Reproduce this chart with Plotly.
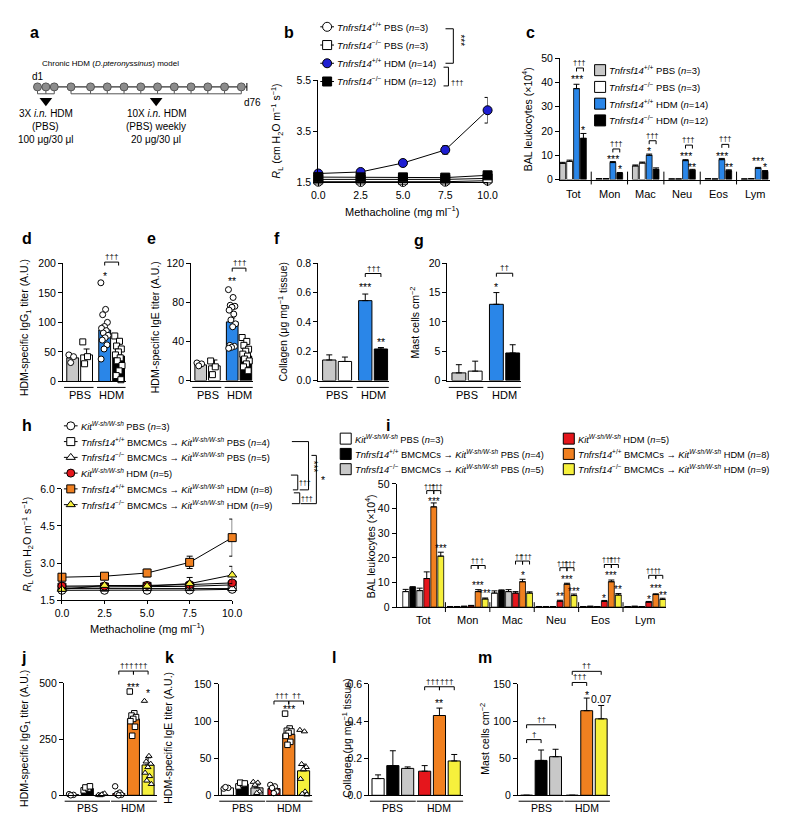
import plotly.graph_objects as go

W, H = 788, 813

# ---------------- values ----------------
# a: protocol
induction_days = [1, 4, 7]
challenge_days = [13, 20, 26, 32, 38, 44, 50, 56, 62, 68, 74]
end_day = 76

# b: lung resistance, Tnfrsf14 mice
methacholine = [0.0, 2.5, 5.0, 7.5, 10.0]
b_wt_pbs = [1.53, 1.52, 1.52, 1.53, 1.57]
b_ko_pbs = [1.62, 1.62, 1.61, 1.62, 1.66]
b_wt_hdm = [1.85, 1.91, 2.26, 2.77, 4.32]
b_ko_hdm = [1.71, 1.70, 1.70, 1.69, 1.78]
b_wt_pbs_err = [0.02, 0.02, 0.02, 0.02, 0.03]
b_ko_pbs_err = [0.02, 0.02, 0.02, 0.02, 0.03]
b_wt_hdm_err = [0.05, 0.05, 0.06, 0.16, 0.50]
b_ko_hdm_err = [0.04, 0.04, 0.04, 0.05, 0.06]

# c: BAL cells
cells = ["Tot", "Mon", "Mac", "Neu", "Eos", "Lym"]
c_wt_pbs = [6.7, 0.3, 5.6, 0.2, 0.3, 0.2]
c_ko_pbs = [7.5, 0.3, 6.8, 0.2, 0.2, 0.3]
c_wt_hdm = [37.5, 7.0, 10.0, 7.8, 8.2, 4.6]
c_ko_hdm = [17.0, 2.5, 4.2, 3.8, 3.6, 3.3]
c_wt_pbs_err = [0.4, 0.1, 0.4, 0.05, 0.1, 0.05]
c_ko_pbs_err = [0.5, 0.1, 0.4, 0.05, 0.05, 0.1]
c_wt_hdm_err = [1.8, 0.4, 0.5, 0.4, 0.5, 0.4]
c_ko_hdm_err = [2.0, 0.4, 0.6, 0.4, 0.4, 0.4]

groups = ["PBS", "HDM"]
# d: IgG1
d_means = [40, 45, 87, 43]
d_err = [4, 10, 9, 7]
d_wt_pbs_pts = [45, 42, 32]
d_ko_pbs_pts = [67, 42, 30]
d_wt_hdm_pts = [167, 122, 113, 100, 93, 90, 86, 82, 78, 74, 70, 62, 55, 38]
d_ko_hdm_pts = [77, 68, 60, 55, 50, 45, 40, 35, 27, 18, 10, 3]
# e: IgE
e_means = [16, 15, 60, 25]
e_err = [1.5, 6, 4, 5]
e_wt_pbs_pts = [18, 17, 15]
e_ko_pbs_pts = [20, 14, 6]
e_wt_hdm_pts = [93, 85, 77, 76, 75, 72, 68, 62, 58, 55, 36, 35, 34, 33]
e_ko_hdm_pts = [44, 40, 36, 32, 30, 27, 25, 22, 20, 17, 14, 10]
# f: collagen
f_means = [0.14, 0.13, 0.545, 0.215]
f_err = [0.035, 0.03, 0.045, 0.01]
# g: mast cells
g_means = [1.3, 1.6, 13.0, 4.7]
g_err = [1.4, 1.7, 2.0, 1.4]

# h: lung resistance, engrafted mice
h_kit_pbs = [1.90, 1.90, 1.90, 1.91, 1.94]
h_wt_pbs = [2.03, 2.03, 2.06, 2.06, 2.12]
h_ko_pbs = [1.97, 1.97, 1.97, 1.97, 1.97]
h_kit_hdm = [2.07, 2.07, 2.10, 2.13, 2.20]
h_wt_hdm = [2.43, 2.47, 2.60, 3.03, 4.03]
h_ko_hdm = [1.94, 2.10, 2.07, 2.17, 2.52]
h_kit_pbs_err = [0.03, 0.03, 0.03, 0.04, 0.05]
h_wt_pbs_err = [0.05, 0.05, 0.06, 0.08, 0.10]
h_ko_pbs_err = [0.04, 0.04, 0.05, 0.05, 0.06]
h_kit_hdm_err = [0.05, 0.06, 0.08, 0.10, 0.12]
h_wt_hdm_err = [0.10, 0.10, 0.15, 0.25, 0.75]
h_ko_hdm_err = [0.06, 0.08, 0.10, 0.25, 0.35]

# i: BAL cells, engrafted mice
i_kit_pbs = [6.3, 0.2, 5.7, 0.2, 0.2, 0.2]
i_wt_pbs = [8.0, 0.2, 6.7, 0.2, 0.3, 0.3]
i_ko_pbs = [6.7, 0.3, 6.3, 0.2, 0.2, 0.2]
i_kit_hdm = [11.6, 0.5, 5.7, 2.4, 2.3, 2.0]
i_wt_hdm = [40.7, 6.3, 10.3, 9.3, 10.3, 5.1]
i_ko_hdm = [20.7, 3.3, 5.7, 4.7, 4.9, 3.1]
i_kit_pbs_err = [0.9, 0.05, 0.9, 0.05, 0.05, 0.05]
i_wt_pbs_err = [0.3, 0.05, 0.3, 0.05, 0.05, 0.05]
i_ko_pbs_err = [1.0, 0.05, 0.8, 0.05, 0.05, 0.05]
i_kit_hdm_err = [2.7, 0.2, 0.6, 0.4, 0.4, 0.3]
i_wt_hdm_err = [1.6, 0.8, 1.0, 0.4, 0.7, 0.3]
i_ko_hdm_err = [1.6, 0.4, 0.5, 0.6, 0.6, 0.5]

# j: IgG1, engrafted mice (order: Kit PBS, +/+ PBS, -/- PBS, Kit HDM, +/+ HDM, -/- HDM)
j_means = [3, 30, 3, 8, 340, 135]
j_err = [2, 4, 2, 7, 15, 32]
j_pts = [[5, 2, 0], [22, 30, 35, 40], [2, 5, 0, 8, 3], [40, 12, 5, 2, 0],
         [462, 365, 355, 348, 340, 330, 305, 265],
         [420, 175, 150, 140, 125, 100, 85, 65, 50]]
# k: IgE
k_means = [10, 15, 10, 9, 82, 33]
k_err = [1, 2, 4, 2, 5, 9]
k_pts = [[9, 10, 11], [12, 15, 17, 16], [18, 17, 14, 5, 3], [14, 12, 10, 5, 3],
         [110, 90, 87, 86, 84, 80, 72, 68],
         [88, 86, 42, 38, 35, 22, 5, 2, 1]]
# l: collagen
l_means = [0.09, 0.16, 0.145, 0.13, 0.43, 0.185]
l_err = [0.02, 0.08, 0.008, 0.03, 0.04, 0.035]
# m: mast cells
m_means = [0, 47, 52, 0, 114, 103]
m_err = [0, 14, 10, 0, 17, 18]

# ---------------- styling ----------------
BLUE = "#2a86e8"
DBLUE = "#1e1ed2"
GRAY = "#c8c8c8"
RED = "#e5161c"
ORANGE = "#f08020"
YELLOW = "#f6f03c"
C_COLORS = [GRAY, "white", BLUE, "black"]
I_COLORS = ["white", "black", GRAY, RED, ORANGE, YELLOW]

fig = go.Figure()
layout = {}
shapes = []
annotations = []
AX = {}


def refs(n):
    return ("x", "y") if n == 1 else (f"x{n}", f"y{n}")


YBASE = dict(showline=True, linecolor="black", linewidth=1, ticks="outside", ticklen=4,
             tickwidth=1, tickcolor="black", showgrid=False, zeroline=False,
             tickfont=dict(size=10.5))
XCAT = dict(showline=True, linecolor="black", linewidth=1, ticks="", showticklabels=False,
            showgrid=False, zeroline=False)
XNUM = dict(showline=True, linecolor="black", linewidth=1, ticks="outside", ticklen=3,
            tickcolor="black", showgrid=False, zeroline=False, tickvals=methacholine,
            tickformat=".1f", tickfont=dict(size=10.5))
HIDDEN = dict(visible=False, showgrid=False, zeroline=False)


def axes(n, box, xr, yr, xopt=None, yopt=None):
    x0, x1, y0, y1 = box
    rx, ry = refs(n)
    xk = "xaxis" if n == 1 else f"xaxis{n}"
    yk = "yaxis" if n == 1 else f"yaxis{n}"
    layout[xk] = dict(domain=[x0 / W, x1 / W], range=xr, anchor=ry, **(xopt or XCAT))
    layout[yk] = dict(domain=[1 - y1 / H, 1 - y0 / H], range=yr, anchor=rx,
                      **{**YBASE, **(yopt or {})})
    AX[n] = dict(box=box, xr=xr, yr=yr)


def xpix(n, x):
    x0, x1, _, _ = AX[n]["box"]
    lo, hi = AX[n]["xr"]
    return x0 + (x - lo) / (hi - lo) * (x1 - x0)


def ypix(n, y):
    _, _, y0, y1 = AX[n]["box"]
    lo, hi = AX[n]["yr"]
    return y1 - (y - lo) / (hi - lo) * (y1 - y0)


def text(x, y, s, size=10.5, xanchor="center", yanchor="middle", angle=0,
         xref="paper", yref="paper", yshift=0):
    if xref == "paper":
        x = x / W
    if yref == "paper":
        y = 1 - y / H
    annotations.append(dict(x=x, y=y, xref=xref, yref=yref, text=s, showarrow=False,
                            font=dict(size=size, color="black"), xanchor=xanchor,
                            yanchor=yanchor, textangle=angle, yshift=yshift))


def pxpath(points):
    return "M" + " L".join(f"{a:.2f},{b:.2f}" for a, b in points)


def pxshape(points):
    shapes.append(dict(type="path", xref="x14", yref="y14", path=pxpath(points),
                       line=dict(color="black", width=1)))


def star(n, x, y, s, size=10.5):
    text(xpix(n, x), ypix(n, y), s, size=size, yshift=-2.5)


def bracket(n, x0, x1, y, label, size=8):
    X0, X1, Y = xpix(n, x0), xpix(n, x1), ypix(n, y)
    pxshape([(X0, Y + 3.5), (X0, Y), (X1, Y), (X1, Y + 3.5)])
    text((X0 + X1) / 2, Y + 1, label, size=size, yanchor="bottom")


def underline(n, x0, x1, ypx):
    pxshape([(xpix(n, x0), ypx), (xpix(n, x1), ypx)])


def cat_label(n, x, ypx, s, size=11):
    text(xpix(n, x), ypx, s, size=size)


def ytitle(x, y, s, size=10.5):
    text(x, y, s, size=size, angle=-90)


def spread(center, n, width):
    if n == 1:
        return [center]
    return [center + width * (((k * 0.618034) % 1.0) - 0.5) for k in range(n)]


def up_err(err):
    return dict(type="data", array=err, arrayminus=[0] * len(err), symmetric=False,
                color="black", thickness=1, width=3)


# ---------------- axes ----------------
axes(1, (310, 483, 67, 171), [0, 10], [1.5, 5.5], XNUM, dict(tickvals=[1.5, 3.5, 5.5]))
axes(2, (557, 772, 45, 168), [-0.36, 5.43], [0, 50], None, dict(tickvals=list(range(0, 51, 10))))
POS4 = [0, 1, 2.3, 3.3]
R4 = [-0.7, 3.8]
axes(3, (49, 113, 253, 373), R4, [0, 200], None, dict(tickvals=[0, 50, 100, 150, 200]))
axes(4, (180, 243, 253, 372), R4, [0, 120], None, dict(tickvals=[0, 40, 80, 120]))
axes(5, (310, 382, 253, 372), R4, [0, 0.8], None, dict(tickvals=[0, 0.2, 0.4, 0.6, 0.8], tickformat=".1f"))
axes(6, (442, 517, 253, 372), R4, [0, 20], None, dict(tickvals=[0, 5, 10, 15, 20]))
axes(7, (48, 222, 482, 595), [0, 10], [1.5, 6.0], XNUM, dict(tickvals=[1.5, 3.0, 4.5, 6.0], tickformat=".1f"))
axes(8, (390, 665, 477, 602), [-0.6, 5.46], [0, 50], None, dict(tickvals=list(range(0, 51, 10))))
POS6 = [0, 1, 2, 3.15, 4.15, 5.15]
R6 = [-0.6, 5.75]
axes(9, (50, 145, 679, 793), R6, [0, 500], None, dict(tickvals=[0, 250, 500]))
axes(10, (208, 304, 680, 793), R6, [0, 150], None, dict(tickvals=[0, 50, 100, 150]))
axes(11, (362, 458, 680, 793), R6, [0, 0.6], None, dict(tickvals=[0, 0.2, 0.4, 0.6], tickformat=".1f"))
axes(12, (514, 608, 680, 793), R6, [0, 150], None, dict(tickvals=[0, 50, 100, 150]))
# a: protocol timeline (x in days, y in pixels)
pxday = (237 - 23) / (end_day - induction_days[0])
axes(13, (15, 250, 40, 140), [induction_days[0] - 8 / pxday, end_day + 13 / pxday], [140, 40], HIDDEN, HIDDEN)
# overlay in pixel units for legends, brackets and group lines
axes(14, (0, W, 0, H), [0, W], [H, 0], HIDDEN, HIDDEN)

# ---------------- a ----------------
TL = 74
all_days = induction_days + challenge_days
fig.add_trace(go.Scatter(x=[induction_days[0], end_day], y=[TL, TL], mode="lines",
                         line=dict(color="black", width=1), xaxis="x13", yaxis="y13"))
shapes.append(dict(type="line", xref="x13", yref="y13", x0=end_day, x1=end_day, y0=TL - 4, y1=TL + 4,
                   line=dict(color="black", width=1)))
for days in (induction_days, challenge_days):
    shapes.append(dict(type="line", xref="x13", yref="y13", x0=days[0], x1=days[-1], y0=81, y1=81,
                       line=dict(color="#555", width=1)))
    for dday in days:
        shapes.append(dict(type="line", xref="x13", yref="y13", x0=dday, x1=dday, y0=78, y1=81,
                           line=dict(color="#555", width=1)))
fig.add_trace(go.Scatter(x=all_days, y=[TL] * len(all_days), mode="markers",
                         marker=dict(size=8, color="#8c8c8c", line=dict(color="#555", width=1)),
                         xaxis="x13", yaxis="y13"))
arrow_x = [sum(induction_days) / len(induction_days),
           (challenge_days[0] + challenge_days[-1]) / 2]
fig.add_trace(go.Scatter(x=arrow_x, y=[88, 88], mode="markers",
                         marker=dict(symbol="triangle-down", size=11, color="black"),
                         xaxis="x13", yaxis="y13"))
text(induction_days[0], 63, "d1", size=10, xref="x13", yref="y13")
text(end_day + 2, 90, "d76", size=10, xref="x13", yref="y13")
text(98, 50, "Chronic HDM (<i>D.pteronyssinus</i>) model", size=8)
for ax_, lines in zip(arrow_x, [["3X <i>i.n.</i> HDM", "(PBS)", "100 μg/30 μl"],
                                ["10X <i>i.n.</i> HDM", "(PBS) weekly", "20 μg/30 μl"]]):
    for k, s in enumerate(lines):
        text(ax_, 101 + 13 * k, s, size=10, xref="x13", yref="y13")

# ---------------- b ----------------
WT = "<i>Tnfrsf14</i><sup>+/+</sup>"
KO = "<i>Tnfrsf14</i><sup>−/−</sup>"
KIT = "<i>Kit</i><sup><i>W-sh/W-sh</i></sup>"


def line_series(n, y, err, symbol, fill, size):
    rx, ry = refs(n)
    fig.add_trace(go.Scatter(x=methacholine, y=y, mode="lines+markers", cliponaxis=False,
                             line=dict(color="black", width=1),
                             marker=dict(symbol=symbol, size=size, color=fill,
                                         line=dict(color="black", width=1)),
                             error_y=dict(type="data", array=err, color="black", thickness=1, width=3),
                             xaxis=rx, yaxis=ry))


def legend_line(x, y, symbol, fill, size, label, fsize):
    fig.add_trace(go.Scatter(x=[x - 7, x + 7], y=[y, y], mode="lines",
                             line=dict(color="black", width=1), xaxis="x14", yaxis="y14"))
    fig.add_trace(go.Scatter(x=[x], y=[y], mode="markers",
                             marker=dict(symbol=symbol, size=size, color=fill,
                                         line=dict(color="black", width=1)),
                             xaxis="x14", yaxis="y14"))
    text(x + 8, y, label, size=fsize, xanchor="left")


def legend_box(x, y, fill, label, fsize):
    fig.add_trace(go.Scatter(x=[x], y=[y], mode="markers",
                             marker=dict(symbol="square", size=11, color=fill,
                                         line=dict(color="black", width=1)),
                             xaxis="x14", yaxis="y14"))
    text(x + 7, y, label, size=fsize, xanchor="left")


b_series = [(b_wt_pbs, b_wt_pbs_err, "circle", "white", WT + " PBS (<i>n</i>=3)"),
            (b_ko_pbs, b_ko_pbs_err, "square", "white", KO + " PBS (<i>n</i>=3)"),
            (b_wt_hdm, b_wt_hdm_err, "circle", DBLUE, WT + " HDM (<i>n</i>=14)"),
            (b_ko_hdm, b_ko_hdm_err, "square", "black", KO + " HDM (<i>n</i>=12)")]
for k, (y, err, sym, fill, lab) in enumerate(b_series):
    line_series(1, y, err, sym, fill, 9)
    legend_line(319, 13 + 18.5 * k, sym, fill, 9, lab, 9.5)
pxshape([(440, 15), (448, 15), (448, 50), (440, 50)])
text(455, 27, "***", size=10, angle=90)
pxshape([(438, 54), (443, 54), (443, 73), (438, 73)])
text(452, 70, "†††", size=7.5)
ytitle(268, 119, "<i>R</i><sub>L</sub> (cm H<sub>2</sub>O m<sup>−1</sup> s<sup>−1</sup>)")
text(396, 200, "Methacholine (mg ml<sup>−1</sup>)", size=11)

# ---------------- c ----------------
c_series = [(c_wt_pbs, c_wt_pbs_err, WT + " PBS (<i>n</i>=3)"),
            (c_ko_pbs, c_ko_pbs_err, KO + " PBS (<i>n</i>=3)"),
            (c_wt_hdm, c_wt_hdm_err, WT + " HDM (<i>n</i>=14)"),
            (c_ko_hdm, c_ko_hdm_err, KO + " HDM (<i>n</i>=12)")]
CSTEP, CW = 0.19, 0.16
cx = list(range(len(cells)))
for k, (y, err, lab) in enumerate(c_series):
    fig.add_trace(go.Bar(x=cx, y=y, offset=(k - 2) * CSTEP + (CSTEP - CW) / 2, width=CW,
                         marker=dict(color=C_COLORS[k], line=dict(color="black", width=0.8)),
                         error_y=up_err(err), xaxis="x2", yaxis="y2"))
    legend_box(598, 57 + 17 * k, C_COLORS[k], lab, 9.5)
for g, s in enumerate(cells):
    cat_label(2, g, 183, s)
    if g:
        pxshape([(xpix(2, g - 0.5), 160), (xpix(2, g - 0.5), 173)])


def cslot(g, k):
    return g + (k - 1.5) * CSTEP


c_marks = [  # group, slot, y, text
    (0, 2, 42.7, "***"), (0, 3, 21.5, "*"), (1, 2, 9.3, "***"), (1, 3, 5.3, "*"),
    (2, 2, 12.6, "*"), (3, 2, 10.6, "***"), (3, 3, 6.0, "**"), (4, 2, 10.9, "***"),
    (4, 3, 6.0, "**"), (5, 2, 8.5, "***"), (5, 3, 6.0, "*")]
for g, k, y, s in c_marks:
    star(2, cslot(g, k), y, s)
for g, y in [(0, 46), (1, 12.6), (2, 16), (3, 14.2), (4, 14.5)]:
    bracket(2, cslot(g, 2), cslot(g, 3), y, "†††", 7.5)
ytitle(523, 107, "BAL leukocytes (×10<sup>4</sup>)")

# ---------------- d, e, f, g ----------------
COL4 = [GRAY, "white", BLUE, "black"]


def bars(n, pos, means, err, colors, width):
    rx, ry = refs(n)
    fig.add_trace(go.Bar(x=pos, y=means, width=width,
                         marker=dict(color=colors, line=dict(color="black", width=1)),
                         error_y=up_err(err), xaxis=rx, yaxis=ry))


def dots(n, center, vals, symbol, w=0.55, size=6):
    rx, ry = refs(n)
    fig.add_trace(go.Scatter(x=spread(center, len(vals), w), y=vals, mode="markers",
                             cliponaxis=False,
                             marker=dict(symbol=symbol, size=size, color="white",
                                         line=dict(color="black", width=1)),
                             xaxis=rx, yaxis=ry))


def groups4(n, ypx_line=379, ypx_text=387):
    underline(n, -0.62, 1.5, ypx_line)
    underline(n, 1.75, 3.8, ypx_line)
    cat_label(n, (POS4[0] + POS4[1]) / 2, ypx_text, groups[0])
    cat_label(n, (POS4[2] + POS4[3]) / 2, ypx_text, groups[1])


bars(3, POS4, d_means, d_err, COL4, 0.85)
for p, pts, sym in zip(POS4, [d_wt_pbs_pts, d_ko_pbs_pts, d_wt_hdm_pts, d_ko_hdm_pts],
                       ["circle", "square", "circle", "square"]):
    dots(3, p, pts, sym)
groups4(3)
star(3, POS4[2], 183, "*")
bracket(3, POS4[2], POS4[3], 202, "†††")
ytitle(11, 318, "HDM-specific IgG<sub>1</sub> titer (A.U.)")

bars(4, POS4, e_means, e_err, COL4, 0.85)
for p, pts, sym in zip(POS4, [e_wt_pbs_pts, e_ko_pbs_pts, e_wt_hdm_pts, e_ko_hdm_pts],
                       ["circle", "square", "circle", "square"]):
    dots(4, p, pts, sym)
groups4(4)
star(4, POS4[2], 104, "**")
bracket(4, POS4[2], POS4[3], 115, "†††")
ytitle(143, 318, "HDM-specific IgE titer (A.U.)")

bars(5, POS4, f_means, f_err, COL4, 0.85)
groups4(5)
star(5, POS4[2], 0.652, "***")
star(5, POS4[3], 0.28, "**")
bracket(5, POS4[2], POS4[3], 0.73, "†††")
ytitle(273, 313, "Collagen (μg mg<sup>−1</sup> tissue)")

bars(6, POS4, g_means, g_err, COL4, 0.85)
groups4(6)
star(6, POS4[2], 16.3, "*")
bracket(6, POS4[2], POS4[3], 18.3, "††")
ytitle(408, 313, "Mast cells cm<sup>−2</sup>")

# ---------------- h ----------------
h_series = [(h_kit_pbs, h_kit_pbs_err, "circle", "white", KIT + " PBS (<i>n</i>=3)"),
            (h_wt_pbs, h_wt_pbs_err, "square", "white", WT + " BMCMCs → " + KIT + " PBS (<i>n</i>=4)"),
            (h_ko_pbs, h_ko_pbs_err, "triangle-up", "white", KO + " BMCMCs → " + KIT + " PBS (<i>n</i>=5)"),
            (h_kit_hdm, h_kit_hdm_err, "circle", RED, KIT + " HDM (<i>n</i>=5)"),
            (h_wt_hdm, h_wt_hdm_err, "square", ORANGE, WT + " BMCMCs → " + KIT + " HDM (<i>n</i>=8)"),
            (h_ko_hdm, h_ko_hdm_err, "triangle-up", YELLOW, KO + " BMCMCs → " + KIT + " HDM (<i>n</i>=9)")]
for k, (y, err, sym, fill, lab) in enumerate(h_series):
    line_series(7, y, err, sym, fill, 8)
    legend_line(57, 418 + 16 * k, sym, fill, 8, lab, 9.3)
pxshape([(282, 468), (289, 468), (289, 483), (284, 483)])
text(296, 476, "†††", size=7)
pxshape([(285, 486), (291, 486), (291, 497), (283, 497)])
text(298, 492, "†††", size=7)
pxshape([(283, 434), (300, 434), (300, 483), (291, 483)])
text(305, 460, "***", size=10, angle=90)
pxshape([(303, 448), (308, 448), (308, 497), (292, 497)])
text(315, 473, "*", size=10.5)
ytitle(13, 538, "<i>R</i><sub>L</sub> (cm H<sub>2</sub>O m<sup>−1</sup> s<sup>−1</sup>)")
text(135, 623, "Methacholine (mg ml<sup>−1</sup>)", size=11)

# ---------------- i ----------------
i_series = [(i_kit_pbs, i_kit_pbs_err), (i_wt_pbs, i_wt_pbs_err), (i_ko_pbs, i_ko_pbs_err),
            (i_kit_hdm, i_kit_hdm_err), (i_wt_hdm, i_wt_hdm_err), (i_ko_hdm, i_ko_hdm_err)]
ISTEP, IW = 0.158, 0.132
for k, (y, err) in enumerate(i_series):
    fig.add_trace(go.Bar(x=cx, y=y, offset=(k - 3) * ISTEP + (ISTEP - IW) / 2, width=IW,
                         marker=dict(color=I_COLORS[k], line=dict(color="black", width=0.8)),
                         error_y=up_err(err), xaxis="x8", yaxis="y8"))
for k, (_, _, _, _, lab) in enumerate(h_series):
    col, row = divmod(k, 3)
    legend_box(338 + 228 * col, 431 + 15.5 * row, I_COLORS[k], lab, 9.3)
for g, s in enumerate(cells):
    cat_label(8, g, 615, s)
    if g:
        pxshape([(xpix(8, g - 0.5), 597), (xpix(8, g - 0.5), 607)])


def islot(g, k):
    return g + (k - 2.5) * ISTEP


i_marks = [
    (0, 4, 44, "***"), (0, 5, 24.7, "***"),
    (1, 4, 9.7, "***"), (1, 5, 6.6, "***"),
    (2, 4, 13.8, "*"),
    (3, 3, 5.5, "**"), (3, 4, 12.3, "***"), (3, 5, 7.3, "***"),
    (4, 3, 4.5, "*"), (4, 4, 13.7, "***"), (4, 5, 8.0, "**"),
    (5, 3, 4.2, "*"), (5, 4, 8.7, "***"), (5, 5, 5.7, "**")]
for g, k, y, s in i_marks:
    star(8, islot(g, k), y, s, 10)
i_daggers = [(0, 47.3, "†††", "†††"), (1, 16.9, "††", "†"), (2, 18.7, "††", "†††"),
             (3, 16.0, "†††", "†††"), (4, 17.3, "†††", "†††"), (5, 12.9, "†††", "†")]
for g, y, s1, s2 in i_daggers:
    bracket(8, islot(g, 3), islot(g, 4), y, s1, 7)
    bracket(8, islot(g, 4), islot(g, 5), y, s2, 7)
ytitle(362, 540, "BAL leukocytes (×10<sup>4</sup>)")

# ---------------- j, k, l, m ----------------
SYM6 = ["circle", "square", "triangle-up", "circle", "square", "triangle-up"]


def groups6(n):
    underline(n, -0.55, 2.55, 799)
    underline(n, 2.62, 5.75, 799)
    cat_label(n, POS6[1], 805.5, groups[0], 10.5)
    cat_label(n, POS6[4], 805.5, groups[1], 10.5)


bars(9, POS6, j_means, j_err, I_COLORS, 0.82)
for p, pts, sym in zip(POS6, j_pts, SYM6):
    dots(9, p, pts, sym, 0.5, 5.5)
groups6(9)
star(9, POS6[4], 495, "***")
star(9, POS6[5], 465, "*")
bracket(9, POS6[3], POS6[4], 553, "†††")
bracket(9, POS6[4], POS6[5], 553, "†††")
ytitle(10, 735, "HDM-specific IgG<sub>1</sub> titer (A.U.)")

bars(10, POS6, k_means, k_err, I_COLORS, 0.82)
for p, pts, sym in zip(POS6, k_pts, SYM6):
    dots(10, p, pts, sym, 0.5, 5.5)
groups6(10)
star(10, POS6[4], 119, "***")
bracket(10, POS6[3], POS6[4], 127, "†††")
bracket(10, POS6[4], POS6[5], 127, "††")
ytitle(157, 735, "HDM-specific IgE titer (A.U.)")

bars(11, POS6, l_means, l_err, I_COLORS, 0.82)
groups6(11)
star(11, POS6[4], 0.51, "**")
bracket(11, POS6[3], POS6[4], 0.585, "†††")
bracket(11, POS6[4], POS6[5], 0.585, "†††")
ytitle(338, 735, "Collagen (μg mg<sup>−1</sup> tissue)")

bars(12, POS6, m_means, m_err, I_COLORS, 0.82)
groups6(12)
bracket(12, POS6[0], POS6[1], 75, "†")
bracket(12, POS6[0], POS6[2], 95, "††")
star(12, POS6[4], 139, "*")
text(xpix(12, POS6[5]), ypix(12, 130), "0.07", size=10.5)
bracket(12, POS6[3], POS6[4], 152, "†††")
bracket(12, POS6[3], POS6[5], 167, "††")
ytitle(479, 736, "Mast cells cm<sup>−2</sup>")

# ---------------- panel letters ----------------
for s, x, y in [("a", 20, 19), ("b", 280, 19), ("c", 527, 19), ("d", 12, 228), ("e", 140, 228),
                ("f", 268, 228), ("g", 413, 230), ("h", 12, 418), ("i", 381, 418),
                ("j", 9, 653), ("k", 158, 653), ("l", 326, 653), ("m", 480, 653)]:
    text(x, y, f"<b>{s}</b>", size=16)

fig.update_layout(
    width=W, height=H, margin=dict(l=0, r=0, t=0, b=0),
    paper_bgcolor="white", plot_bgcolor="rgba(0,0,0,0)",
    font=dict(family="Liberation Sans, Arial, sans-serif", size=10.5, color="black"),
    showlegend=False, bargap=0.2,
    shapes=shapes, annotations=annotations, **layout)

fig.write_html("out.html")
